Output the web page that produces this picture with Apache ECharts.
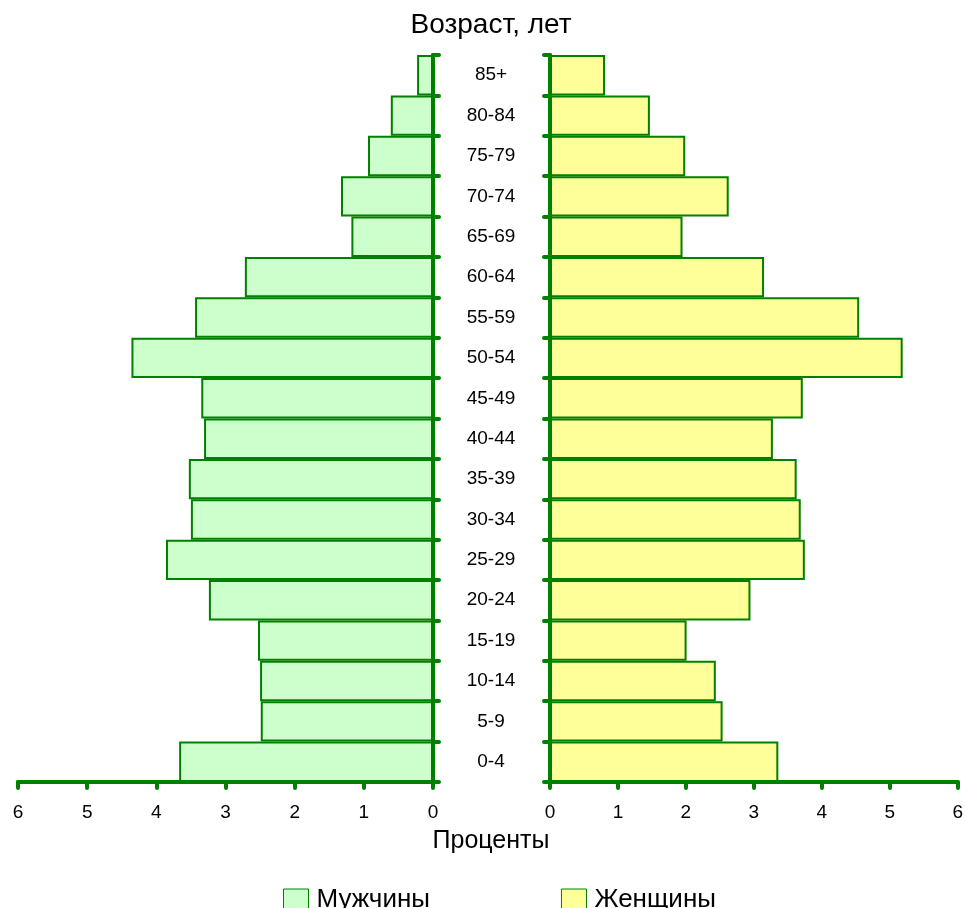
<!DOCTYPE html>
<html><head><meta charset="utf-8">
<script src="https://cdn.jsdelivr.net/npm/echarts@6/dist/echarts.min.js"></script>
<style>html,body{margin:0;padding:0;background:#fff;overflow:hidden}#c{width:966px;height:908px}</style>
</head><body><div id="c"></div>
<script>
const ageGroups = ['0-4','5-9','10-14','15-19','20-24','25-29','30-34','35-39','40-44','45-49','50-54','55-59','60-64','65-69','70-74','75-79','80-84','85+'];
const men   = [3.67,2.49,2.50,2.53,3.24,3.86,3.50,3.53,3.31,3.35,4.36,3.44,2.72,1.18,1.33,0.94,0.61,0.23];
const women = [3.36,2.54,2.44,2.01,2.95,3.75,3.69,3.63,3.28,3.72,5.19,4.55,3.15,1.95,2.63,1.99,1.47,0.81];
const xTicks = [0,1,2,3,4,5,6];
const titleText = 'Возраст, лет';
const xTitle = 'Проценты';
const menName = 'Мужчины', womenName = 'Женщины';

const green = '#008000';
const font = 'Liberation Sans, Arial, sans-serif';
const chart = echarts.init(document.getElementById('c'));
const axisLine = {show:true, lineStyle:{color:green, width:4, cap:'round'}};
const axisTick = {show:true, length:6, lineStyle:{color:green, width:4, cap:'round'}};
const xLabel = {color:'#000', fontSize:19, fontFamily:font, margin:21, formatter:v=>xTicks.includes(v)?String(v):''};
chart.setOption({
  animation:false,
  textStyle:{fontFamily:font},
  grid:[
    {left:18, width:415, top:55, height:727},
    {left:550, width:413, top:55, height:727}
  ],
  xAxis:[
    {gridIndex:0, type:'value', inverse:true, min:0, max:6, interval:1, splitLine:{show:false}, axisLine, axisTick, axisLabel:xLabel},
    {gridIndex:1, type:'value', min:0, max:6, interval:1, splitLine:{show:false}, axisLine, axisTick, axisLabel:xLabel}
  ],
  yAxis:[
    {gridIndex:0, type:'category', data:ageGroups, position:'right', axisLine, axisTick,
     axisLabel:{show:true, align:'center', margin:58, color:'#000', fontSize:19, fontFamily:font}},
    {gridIndex:1, type:'category', data:ageGroups, position:'left', axisLine, axisTick, axisLabel:{show:false}}
  ],
  legend:{
    top:882, left:278, itemWidth:25, itemHeight:22, itemGap:131, icon:'rect',
    textStyle:{fontSize:26, color:'#000', fontFamily:font, padding:[0,0,0,3]},
    data:[{name:menName, itemStyle:{color:'#ccffcc', borderColor:green, borderWidth:1}},
          {name:womenName, itemStyle:{color:'#ffff99', borderColor:green, borderWidth:1}}]
  },
  graphic:[
    {type:'text', x:491, y:25, style:{text:titleText, fontSize:28, fontFamily:font, fill:'#000', align:'center', verticalAlign:'middle'}},
    {type:'text', x:491, y:841, style:{text:xTitle, fontSize:25, fontFamily:font, fill:'#000', align:'center', verticalAlign:'middle'}}
  ],
  series:[
    {name:menName, type:'bar', xAxisIndex:0, yAxisIndex:0, data:men, barCategoryGap:'0%',
     itemStyle:{color:'#ccffcc', borderColor:green, borderWidth:2}},
    {name:womenName, type:'bar', xAxisIndex:1, yAxisIndex:1, data:women, barCategoryGap:'0%',
     itemStyle:{color:'#ffff99', borderColor:green, borderWidth:2}}
  ]
});
</script></body></html>
